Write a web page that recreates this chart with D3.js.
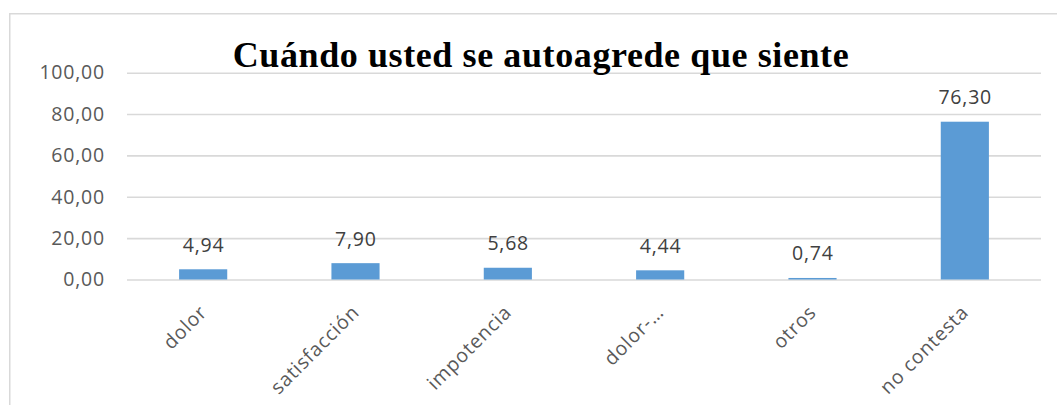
<!DOCTYPE html>
<html>
<head>
<meta charset="utf-8">
<script src="https://cdn.jsdelivr.net/npm/d3@7"></script>
<style>
  html, body { margin: 0; padding: 0; background: #fff; }
  svg { display: block; }
</style>
</head>
<body>
<svg id="chart" width="1057" height="405"></svg>
<script>
// Survey responses (percent)
const categories = ["dolor", "satisfacción", "impotencia", "dolor-…", "otros", "no contesta"];
const values = [4.94, 7.90, 5.68, 4.44, 0.74, 76.30];
const yTicks = [0, 20, 40, 60, 80, 100];
const title = "Cuándo usted se autoagrede que siente";

const svg = d3.select("#chart");
const W = 1057, H = 405;
const plot = { left: 127, right: 1041, top: 72.7, bottom: 279.5 };
const labelFont = "'Open Sans', sans-serif";

const fmt = v => v.toFixed(2).replace(".", ",");

// Chart area frame
svg.append("rect")
  .attr("x", 9.75).attr("y", 13.75)
  .attr("width", W + 20).attr("height", H + 20)
  .attr("fill", "#fff")
  .attr("stroke", "#d9d9d9").attr("stroke-width", 1.5);

const x = d3.scaleBand()
  .domain(categories)
  .range([plot.left, plot.right])
  .paddingInner(0.684)
  .paddingOuter(0.342);

const y = d3.scaleLinear()
  .domain([0, 100])
  .range([plot.bottom, plot.top]);

// Horizontal gridlines + value axis labels
const yAxis = d3.axisLeft(y)
  .tickValues(yTicks)
  .tickSize(-(plot.right - plot.left))
  .tickPadding(22)
  .tickFormat(fmt);

const gy = svg.append("g")
  .attr("transform", `translate(${plot.left},0)`)
  .call(yAxis);
gy.select(".domain").remove();
gy.selectAll(".tick line").attr("stroke", "#d9d9d9").attr("stroke-width", 1.6);
gy.selectAll(".tick text")
  .attr("fill", "#595959")
  .attr("font-family", labelFont)
  .attr("font-size", 19.5)
  .attr("letter-spacing", 0.8)
  .attr("dy", "0.32em");

// Bars
svg.append("g").selectAll("rect")
  .data(values)
  .join("rect")
  .attr("x", (d, i) => x(categories[i]))
  .attr("y", d => y(d))
  .attr("width", x.bandwidth())
  .attr("height", d => y(0) - y(d))
  .attr("fill", "#5b9bd5");

// Value labels
svg.append("g").selectAll("text")
  .data(values)
  .join("text")
  .attr("x", (d, i) => x(categories[i]) + x.bandwidth() / 2 + 0.4)
  .attr("y", d => y(d) - 17.5)
  .attr("text-anchor", "middle")
  .attr("fill", "#404040")
  .attr("font-family", labelFont)
  .attr("font-size", 19.5)
  .attr("letter-spacing", 0.8)
  .text(d => fmt(d));

// Category axis labels, rotated
const xAxis = d3.axisBottom(x).tickSize(0).tickPadding(0);
const gx = svg.append("g")
  .attr("transform", `translate(0,${plot.bottom})`)
  .call(xAxis);
gx.select(".domain").remove();
gx.selectAll(".tick text")
  .attr("fill", "#595959")
  .attr("font-family", labelFont)
  .attr("font-size", 19.5)
  .attr("letter-spacing", 0.8)
  .attr("text-anchor", "end")
  .attr("dy", null)
  .attr("y", 0)
  .attr("transform", "translate(5,34) rotate(-45)");

// Title
svg.append("text")
  .attr("x", 541)
  .attr("y", 67)
  .attr("text-anchor", "middle")
  .attr("font-family", "'Liberation Serif', 'Times New Roman', serif")
  .attr("font-weight", "bold")
  .attr("font-size", 36)
  .attr("letter-spacing", 0.6)
  .attr("fill", "#000")
  .text(title);
</script>
</body>
</html>
